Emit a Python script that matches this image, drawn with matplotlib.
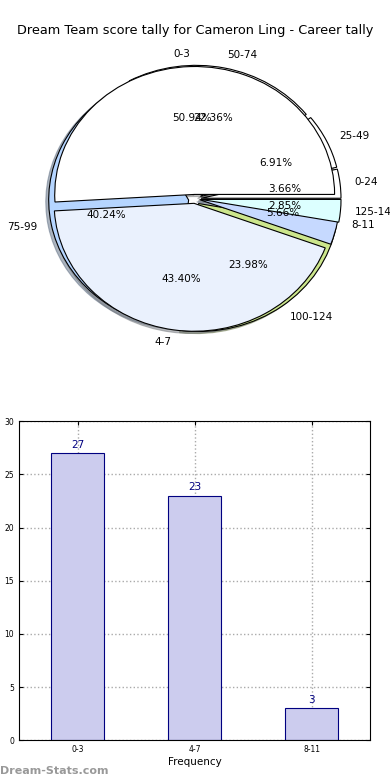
import matplotlib
matplotlib.use("Agg")
import matplotlib.pyplot as plt

# Pie 1: games per score band
band_labels = ['0-3', '4-7', '8-11']
band_counts = [27, 23, 3]

# Pie 2: share of points per score range (percent)
range_labels = ['0-24', '25-49', '50-74', '75-99', '100-124', '125-149']
range_pcts = [3.66, 6.91, 22.36, 40.24, 23.98, 2.85]

band_colors = ['#ffffff', '#eaf1fd', '#c6d9ff']
range_colors = ['#ffffff', '#ffffff', '#ffffff', '#b5d5ff', '#cce68c', '#dcffff']

title = "Dream Team score tally for Cameron Ling - Career tally"

fig = plt.figure(figsize=(3.9, 7.8), dpi=100)

# --- pie chart ---
shadow = {'ox': -0.015, 'oy': -0.012, 'shade': 0.5}
ax1 = fig.add_axes([0.051, 0.54, 0.897, 0.41])
w2, t2, a2 = ax1.pie(range_pcts, labels=range_labels, colors=range_colors,
                     autopct='%1.2f%%', startangle=0, shadow=shadow,
                     explode=[0.045] * len(range_pcts),
                     wedgeprops={'linewidth': 0.8, 'edgecolor': 'black'},
                     textprops={'fontsize': 7.5})
w1, t1, a1 = ax1.pie(band_counts, labels=band_labels, colors=band_colors,
                     autopct='%1.2f%%', startangle=0, shadow=shadow,
                     explode=[0.035] * len(band_counts),
                     wedgeprops={'linewidth': 0.8, 'edgecolor': 'black'},
                     textprops={'fontsize': 7.5})
for w in w1:
    w.set_zorder(2)
w2[-1].set_zorder(3)
for t in list(t1) + list(t2) + list(a1) + list(a2):
    t.set_zorder(5)
ax1.set_aspect('auto')
ax1.set_xlim(-1.25, 1.25)
ax1.set_ylim(-1.25, 1.25)
fig.text(0.5, 0.961, title, ha='center', va='center', fontsize=9.3)

# --- bar chart ---
ax2 = fig.add_axes([0.049, 0.051, 0.9, 0.409])
xs = range(len(band_labels))
bars = ax2.bar(xs, band_counts, width=0.45, color='#ccccee', edgecolor='navy',
               linewidth=0.8, zorder=2)
for x, v in zip(xs, band_counts):
    ax2.text(x, v + 0.3, str(v), ha='center', va='bottom', color='navy', fontsize=7.5)
ax2.set_xlim(-0.5, 2.5)
ax2.set_ylim(0, 30)
ax2.set_yticks(range(0, 31, 5))
ax2.set_xticks(list(xs))
ax2.set_xticklabels(band_labels)
ax2.tick_params(labelsize=5.5, length=3, direction='in', top=True, right=True)
ax2.grid(True, linestyle=':', color='#aaaaaa', linewidth=1)
ax2.set_axisbelow(True)
ax2.set_xlabel('Frequency', fontsize=7.5, labelpad=2)
ax2.set_ylabel('Stat Interval', fontsize=7.5, labelpad=6)

fig.text(0.0, 0.005, 'Dream-Stats.com', color='#999999', fontsize=8,
         fontweight='bold', ha='left', va='bottom')

fig.savefig('out.png', dpi=100)
